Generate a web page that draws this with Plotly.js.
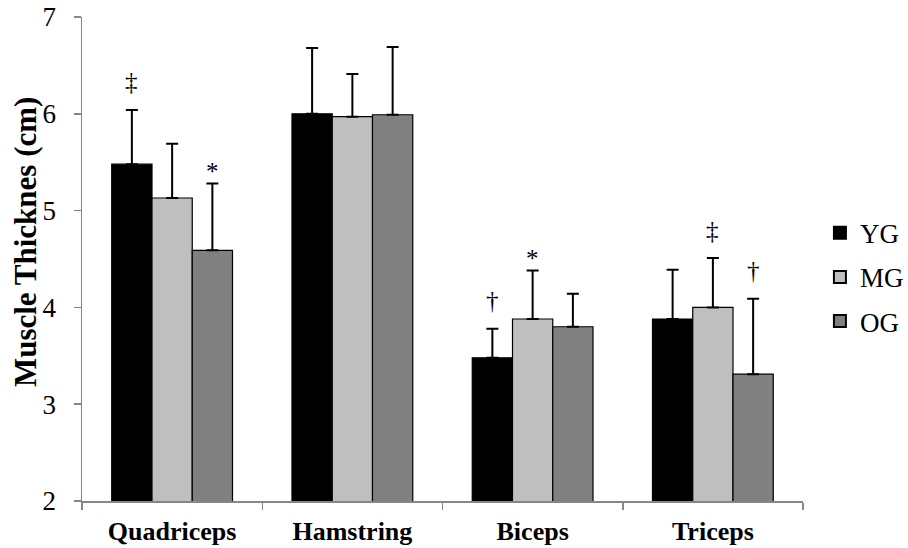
<!DOCTYPE html>
<html>
<head>
<meta charset="utf-8">
<script src="https://cdn.plot.ly/plotly-3.0.1.min.js"></script>
<style>
  html, body { margin: 0; padding: 0; background: #ffffff; }
  #chart { width: 908px; height: 548px; }
</style>
</head>
<body>
<div id="chart"></div>
<script>
// Muscle thickness by muscle group and age group (mean + SD)
const muscles = ['Quadriceps', 'Hamstring', 'Biceps', 'Triceps'];
const groups = ['YG', 'MG', 'OG'];
const groupColors = ['#000000', '#bfbfbf', '#808080'];

const meanYG = [5.48, 6.00, 3.48, 3.88];
const meanMG = [5.13, 5.97, 3.88, 4.00];
const meanOG = [4.59, 5.99, 3.80, 3.31];

const sdYG = [0.56, 0.68, 0.30, 0.51];
const sdMG = [0.56, 0.44, 0.50, 0.51];
const sdOG = [0.69, 0.70, 0.34, 0.78];

// significance markers: muscle, group index, symbol
const sigMuscle = ['Quadriceps', 'Quadriceps', 'Biceps', 'Biceps', 'Triceps', 'Triceps'];
const sigGroup = [0, 2, 0, 1, 1, 2];
const sigText = ['‡', '*', '†', '*', '‡', '†'];

const yTitle = 'Muscle Thicknes (cm)';

const means = [meanYG, meanMG, meanOG];
const sds = [sdYG, sdMG, sdOG];

const serif = 'Liberation Serif, Times New Roman, serif';

const traces = groups.map((g, i) => ({
  type: 'bar',
  name: g,
  x: muscles,
  y: means[i],
  base: 0,
  legendgroup: g,
  marker: { color: groupColors[i], line: { color: '#000000', width: 1.2 } },
  error_y: {
    type: 'data',
    symmetric: false,
    array: sds[i],
    arrayminus: means[i].map(() => 0),
    color: '#000000',
    thickness: 2,
    width: 6
  }
}));

const barOffset = 40.2; // px between neighbouring bars within a group
const annotations = sigText.map((t, k) => {
  const mi = muscles.indexOf(sigMuscle[k]);
  const gi = sigGroup[k];
  const top = means[gi][mi] + sds[gi][mi];
  return {
    x: sigMuscle[k], y: top, xref: 'x', yref: 'y',
    text: t, showarrow: false,
    xshift: (gi - 1) * barOffset,
    yanchor: 'middle',
    yshift: t === '*' ? 12 : 28,
    font: { family: serif, size: 25, color: '#000000' }
  };
});

// vertical axis title, sitting slightly above the plot's middle
annotations.push({
  text: '<b>' + yTitle + '</b>', textangle: -90, showarrow: false,
  xref: 'paper', yref: 'paper', x: -0.079, y: 0.535,
  xanchor: 'center', yanchor: 'middle',
  font: { family: serif, size: 31, color: '#000000' }
});

const layout = {
  width: 908, height: 548,
  paper_bgcolor: '#ffffff', plot_bgcolor: '#ffffff',
  margin: { l: 82, r: 105, t: 17, b: 47 },
  barmode: 'group',
  bargap: 0.33, bargroupgap: 0,
  font: { family: serif, color: '#000000' },
  showlegend: true,
  legend: {
    xref: 'container', yref: 'container',
    x: 0.903, y: 0.494, xanchor: 'left', yanchor: 'middle',
    font: { family: serif, size: 27, color: '#000000' },
    tracegroupgap: 6, itemsizing: 'constant'
  },
  xaxis: {
    type: 'category',
    showline: true, linecolor: '#868686', linewidth: 1.5,
    ticks: 'outside', tickson: 'boundaries', ticklen: 7, tickcolor: '#868686', tickwidth: 1.5,
    ticklabelstandoff: 6,
    tickfont: { family: serif, size: 26, color: '#000000', weight: 'bold' },
    showgrid: false, zeroline: false, fixedrange: true
  },
  yaxis: {
    range: [2, 7], dtick: 1, tick0: 2,
    showline: true, linecolor: '#868686', linewidth: 1.5,
    ticks: 'outside', ticklen: 7, tickcolor: '#868686', tickwidth: 1.5,
    ticklabelstandoff: 12,
    tickfont: { family: serif, size: 27, color: '#000000' },
    showgrid: false, zeroline: false
  },
  annotations: annotations
};

Plotly.newPlot('chart', traces, layout, { displayModeBar: false, staticPlot: true });
</script>
</body>
</html>
